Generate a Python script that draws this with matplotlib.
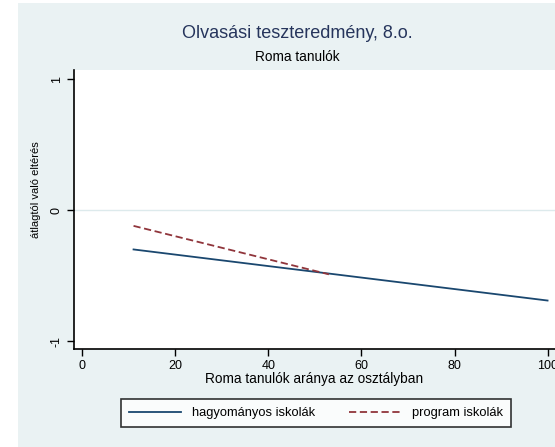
import numpy as np
from matplotlib import pyplot as plt

plt.rcParams['font.family'] = ['Liberation Sans', 'DejaVu Sans']

# adatok (ábráról leolvasva)
x_hagy = [11, 100]
y_hagy = [-0.30, -0.69]
x_prog = [11, 53]
y_prog = [-0.12, -0.49]

xticks = [0, 20, 40, 60, 80, 100]
yticks = [-1, 0, 1]

bg = '#EAF2F3'

fig = plt.figure(figsize=(5.55, 4.47), dpi=100)
fig.patch.set_facecolor('white')
# Stata-szerű háttér
fig.patches.append(plt.Rectangle((18/555, 0), 1, 444/447, transform=fig.transFigure,
                                 facecolor=bg, edgecolor='none', zorder=-10))

ax = fig.add_axes([74/555, 1-349/447, (555-74)/555, (349-70)/447])
ax.set_facecolor('white')
ax.set_xlim(-1.8, 101.6)
ax.set_ylim(-1.06, 1.07)

ax.axhline(0, color='#DDEAEC', lw=1.0, zorder=1)
ax.plot(x_hagy, y_hagy, color='#1A476F', lw=1.3, zorder=3, label='hagyományos iskolák')
ax.plot(x_prog, y_prog, color='#90353B', lw=1.3, ls=(0, (4, 2)), zorder=4, label='program iskolák')

for s in ['top', 'right']:
    ax.spines[s].set_visible(False)
for s in ['left', 'bottom']:
    ax.spines[s].set_linewidth(1.2)

ax.set_xticks(xticks)
ax.set_yticks(yticks)
ax.set_yticklabels([str(v) for v in yticks], rotation=90, va='center')
ax.tick_params(labelsize=9, length=5, width=1, pad=3)

ax.set_xlabel('Roma tanulók aránya az osztályban', fontsize=9.8, labelpad=0)
ax.set_ylabel('átlagtól való eltérés', fontsize=8, labelpad=4)
ax.yaxis.set_label_coords(-0.068, 0.57)

fig.text(297/555, 1-33/447, 'Olvasási teszteredmény, 8.o.', ha='center', va='center',
         fontsize=13, color='#26355C')
fig.text(297/555, 1-57/447, 'Roma tanulók', ha='center', va='center', fontsize=9.8, color='black')

leg = fig.legend(loc='center', bbox_to_anchor=(316/555, 1-413/447), ncol=2, fontsize=9.3,
                 frameon=True, fancybox=False, edgecolor='black', handlelength=4.0,
                 handletextpad=0.9, columnspacing=2.6, borderpad=0.6, borderaxespad=0)
leg.get_frame().set_linewidth(1.2)

fig.savefig('out.png', dpi=100, facecolor=fig.get_facecolor())
